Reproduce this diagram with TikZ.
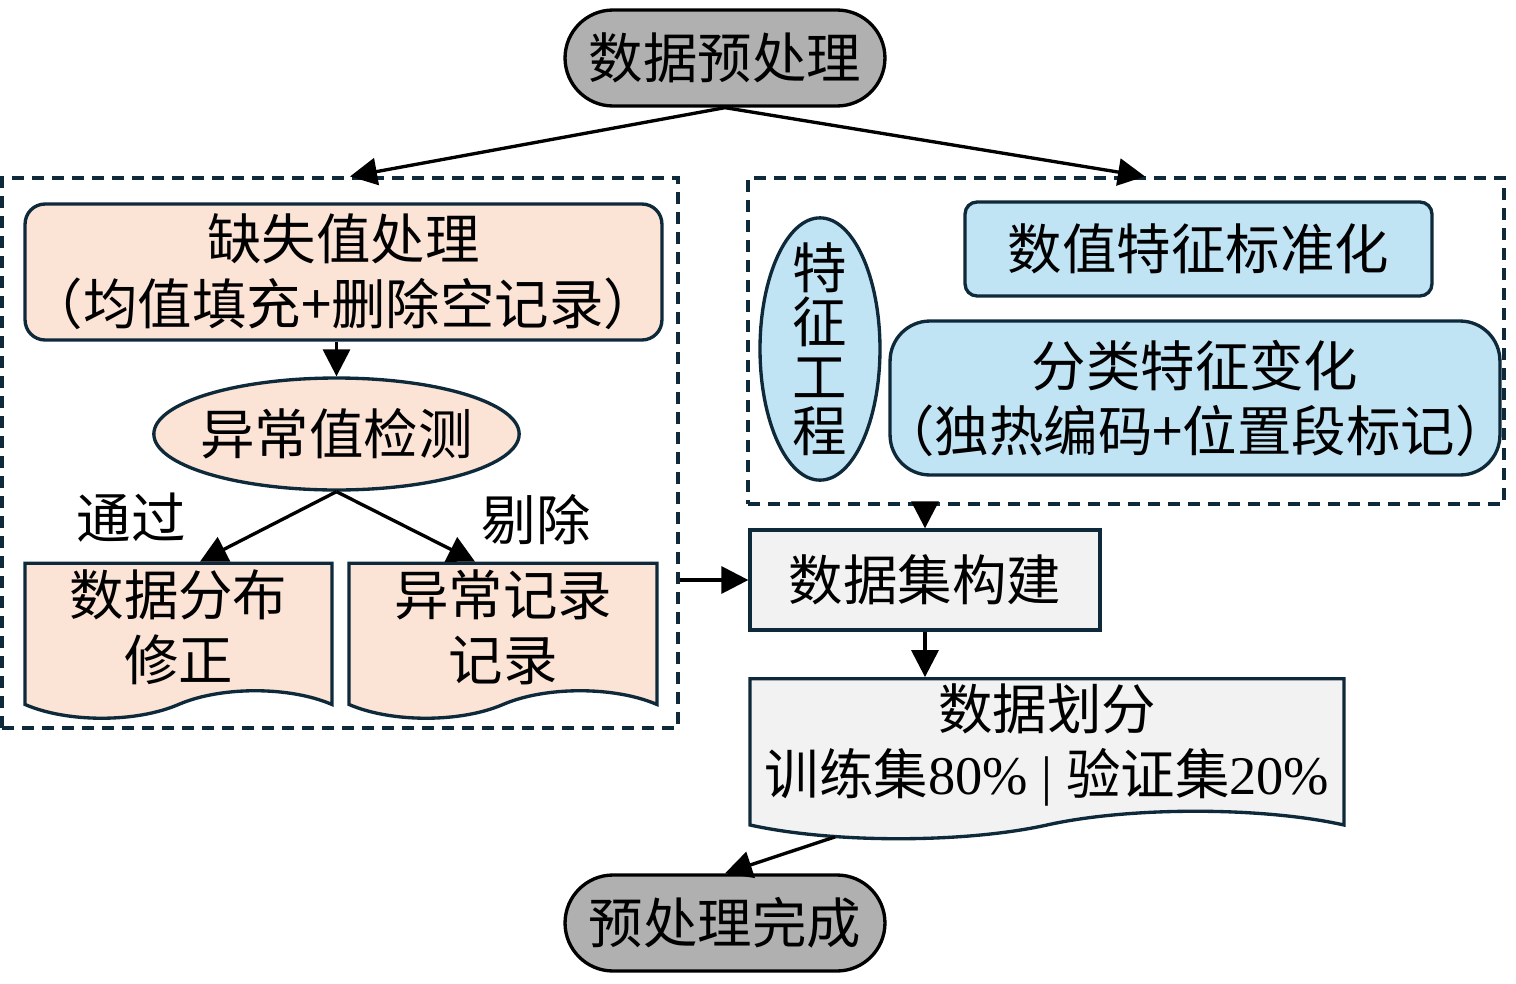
\documentclass[tikz,border=0pt]{standalone}
\usepackage{fontspec}
\setmainfont{Noto Sans CJK SC}
\newfontfamily\tnr{Liberation Serif}
\usepackage{tikz}
\usetikzlibrary{arrows.meta,positioning,calc,shapes.geometric,shapes.misc,shapes.symbols}

\definecolor{edge}{HTML}{0E2A3A}
\definecolor{peach}{HTML}{FBE3D6}
\definecolor{skyb}{HTML}{C1E4F5}
\definecolor{termg}{HTML}{B0B0B0}
\definecolor{paleg}{HTML}{F2F2F2}

\begin{document}
\begin{tikzpicture}[x=0.02cm,y=-0.02cm,
  font=\fontsize{31}{37}\selectfont,
  block/.style={rectangle,draw=edge,line width=1.9pt,inner sep=0pt,align=center},
  term/.style={rounded rectangle,draw=black,line width=1.9pt,fill=termg,
               minimum width=6.4cm,minimum height=1.92cm,inner sep=0pt},
  oval/.style={ellipse,draw=edge,line width=1.9pt,inner sep=0pt,align=center},
  doc/.style={tape,tape bend top=none,tape bend bottom=in and out,tape bend height=0.55cm,
              draw=edge,line width=1.9pt,inner sep=0pt,align=center},
  group/.style={draw=edge,line width=1.8pt,dash pattern=on 0.24cm off 0.16cm,inner sep=0pt},
  arr/.style={-{Triangle[length=0.54cm,width=0.54cm]},line width=1.9pt}]
\useasboundingbox (0,0) rectangle (1516,984);

% start / end
\node[term] (start) at (725,58) {数据预处理};
\node[term] (done) at (725,923) {预处理完成};

% groups
\node[group,minimum width=13.52cm,minimum height=11cm] (lgrp) at (340,453) {};
\node[group,minimum width=15.12cm,minimum height=6.52cm] (rgrp) at (1126,341) {};

% missing values / outliers
\node[block,fill=peach,rounded corners=0.4cm,minimum width=12.74cm,minimum height=2.72cm]
  (miss) at (343.5,272) {缺失值处理\\（均值填充+删除空记录）};
\node[oval,fill=peach,inner xsep=-0.14cm,minimum width=7.26cm,minimum height=2.24cm]
  (outl) at (336.5,434) {异常值检测};
\node[doc,fill=peach,minimum width=6.14cm,minimum height=3.1cm] (dist) at (178.5,627) {数据分布\\修正};
\node[doc,fill=peach,minimum width=6.16cm,minimum height=3.1cm] (rec) at (503,627) {异常记录\\记录};
\node (pass) at (131,518) {通过};
\node (drop) at (536,520) {剔除};

% feature engineering
\node[oval,fill=skyb,inner ysep=-0.28cm,minimum width=2.4cm,minimum height=5.24cm,
      font=\fontsize{31}{31}\selectfont] (fe) at (820,349) {特\\征\\工\\程};
\node[block,fill=skyb,rounded corners=0.24cm,minimum width=9.34cm,minimum height=1.88cm]
  (num) at (1198.5,249) {数值特征标准化};
\node[block,fill=skyb,rounded corners=0.8cm,minimum width=12.2cm,minimum height=3.08cm]
  (cat) at (1195,398) {分类特征变化\\\makebox[11.6cm][c]{（独热编码+位置段标记）}};

% dataset
\node[block,fill=paleg,minimum width=7cm,minimum height=2cm] (ds) at (925,580) {数据集构建};
\node[doc,fill=paleg,minimum width=11.88cm,minimum height=3.2cm] (split) at (1047,745)
  {数据划分\\训练集{\tnr 80\% | }验证集{\tnr 20\%}};

% connectors
\draw[arr] (start.south) -- ([xshift=0.2cm]lgrp.north);
\draw[arr] (start.south) -- ([xshift=0.38cm]rgrp.north);
\draw[arr] (outl.north |- miss.south) -- (outl.north);
\draw[arr] (outl.south) -- ([xshift=0.43cm]dist.north);
\draw[arr] (outl.south) -- ([xshift=-0.56cm]rec.north);
\draw[arr] (lgrp.east |- ds.west) -- (ds.west);
\draw[arr] (ds.north |- rgrp.south) -- (ds.north);
\draw[arr] (ds.south) -- (ds.south |- split.north);
\draw[arr] ([xshift=-4.24cm,yshift=-0.48cm]split.south) -- (done.north);
\end{tikzpicture}
\end{document}
